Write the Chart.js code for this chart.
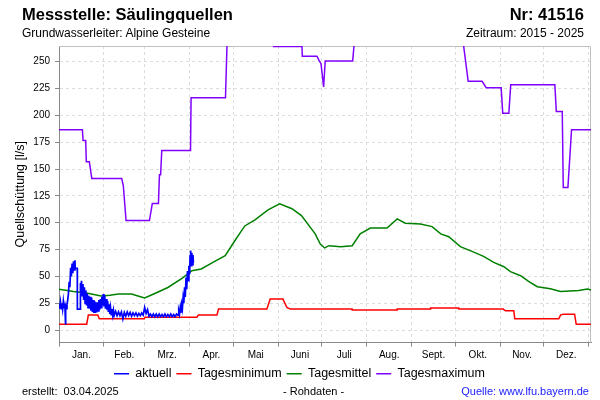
<!DOCTYPE html>
<html>
<head>
<meta charset="utf-8">
<script src="https://cdn.jsdelivr.net/npm/chart.js@4.4.1/dist/chart.umd.min.js"></script>
<style>
  body { margin: 0; background: #fff; }
  #wrap { position: relative; width: 600px; height: 400px; font-family: "Liberation Sans", Arial, sans-serif; color: #000; }
  #wrap canvas { position: absolute; left: 0; top: 0; }
  .txt { position: absolute; line-height: 1; white-space: pre; }
</style>
</head>
<body>
<div id="wrap">
  <canvas id="chart" width="600" height="400"></canvas>
  <div class="txt" style="left:22px; top:6px; font-size:16.5px; font-weight:bold;">Messstelle: Säulingquellen</div>
  <div class="txt" style="left:22px; top:27px; font-size:12px;">Grundwasserleiter: Alpine Gesteine</div>
  <div class="txt" style="right:16px; top:6px; font-size:16.5px; font-weight:bold;">Nr: 41516</div>
  <div class="txt" style="right:16px; top:27px; font-size:12px;">Zeitraum: 2015 - 2025</div>
  <div class="txt" style="left:22px; top:386px; font-size:11px;">erstellt:  03.04.2025</div>
  <div class="txt" style="left:283px; top:386px; font-size:11px;">- Rohdaten -</div>
  <div class="txt" style="right:11px; top:386px; font-size:11px; color:#2020ff;">Quelle: www.lfu.bayern.de</div>
</div>
<script>
// Monate (Tag im Jahr)
const monate = ['Jan.', 'Feb.', 'Mrz.', 'Apr.', 'Mai', 'Juni', 'Juli', 'Aug.', 'Sept.', 'Okt.', 'Nov.', 'Dez.'];
const monatsAnfang = [0, 31, 59, 90, 120, 151, 181, 212, 243, 273, 304, 334, 365];
const monatsMitte = [15.5, 45, 74.5, 105, 135.5, 166, 196.5, 227.5, 258, 288.5, 319, 349.5];
const yTicks = [0, 25, 50, 75, 100, 125, 150, 175, 200, 225, 250];

// aktuell (2025, Rohdaten)
const aktuellTage = [
  0, 0.5, 1, 1.5, 2, 2.5, 3, 3.5, 4, 4.5, 4.6, 5, 5.5, 6, 6.5, 7, 7.5, 8, 8.5, 9, 9.5, 10, 10.5, 11, 11.2, 12.6, 12.65, 14.5, 14.55,
  15, 15.5, 16, 16.5, 17, 17.5, 18, 18.5, 19, 19.5, 20, 20.5, 21, 21.5, 22, 22.5, 23, 23.5, 24, 24.5,
  25, 25.5, 26, 26.5, 27, 27.5, 28, 28.5, 29, 29.5, 30, 30.5, 31, 31.5, 32, 32.5, 33, 33.5, 34, 34.5,
  35, 35.5, 36, 36.5, 37, 37.5,
  38, 39, 40, 41, 42, 43, 44, 45, 46, 47, 48, 49, 50, 51, 52, 53, 54, 55, 56, 57,
  58, 59, 60, 61, 62, 63, 64, 65, 66, 67, 68, 69, 70, 71, 72, 73, 74, 75, 76, 77, 78, 79, 80, 81, 82,
  82.5, 83, 83.5, 84, 84.5, 85, 85.5, 86, 86.5, 87, 87.5, 88, 88.5, 89, 89.5, 90, 90.3, 90.6, 90.8, 91.2, 91.5, 92, 92.3, 92.6];
const aktuellWerte = [
  24, 20, 26, 20, 25, 19.6, 27, 21, 25, 6, 22, 20, 24, 28, 34, 45, 40, 58, 50, 62, 53, 64, 56, 65, 57.5, 57.5, 19.6, 19.6, 44,
  34, 46, 32, 43, 28, 40, 25, 37, 23, 34, 21, 32, 20, 31, 18, 30, 17, 28, 16, 27,
  16, 26, 16.5, 26, 18, 28, 19, 29, 21, 31, 23, 33.6, 22, 32, 20, 29, 19, 27, 17, 24,
  15, 21, 14.5, 19.6, 14, 18.5,
  13.5, 17.5, 13.5, 17, 13.5, 17, 10.5, 16.5, 13, 17, 13.5, 16.5, 13, 16, 13.5, 16, 13, 15.5, 13.5, 16,
  14, 21, 15.5, 19, 13, 15, 12.5, 15, 12.5, 15, 12.5, 15, 12.5, 14.5, 12.5, 15, 12.5, 14.5, 12.5, 15, 12.5, 14.5, 12.5, 15, 14,
  18, 15, 21, 16, 24, 20, 30, 25, 40, 31, 49, 38, 55, 46, 60, 52, 70, 63, 74, 60, 72, 61, 70, 63];

// Tagesminimum
const minTage = [0, 19.1, 20.2, 26.7, 27.8, 58.8, 59.3, 95, 96, 108.8, 109.9, 143.2, 145.5, 154.3, 157, 159.3, 201.9, 202,
  232.9, 233, 255.9, 256, 275.4, 275.5, 306, 307.6, 313.3, 314, 344.3, 345.5, 347.5, 355.2, 356.3, 366.5];
const minWerte = [5.6, 5.6, 14, 14, 10.5, 10.5, 12.1, 12.1, 14, 14, 19.6, 19.6, 28.9, 28.9, 21.1, 19.6, 19.6, 18.7,
  18.7, 19.6, 19.6, 20.5, 20.5, 19.6, 19.6, 18, 18, 10.5, 10.5, 14, 14.9, 14.9, 5.6, 5.6];

// Tagesmittel
const mittelTage = [0, 10, 19, 29, 35, 41, 50, 55, 59, 66, 75, 85, 91.5, 98, 106, 114.5, 121, 128, 135, 144, 152, 160.5,
  167, 176.5, 180, 183, 186, 194, 202, 207.5, 214.5, 226, 233, 238.5, 249, 257, 263, 268.5, 276.5, 284.5, 292.5,
  299.5, 306.5, 311, 318, 323.5, 329.5, 338.5, 345.5, 358, 364, 366.5];
const mittelWerte = [38, 36, 34.5, 31.7, 32.5, 33.6, 33.6, 31.5, 29.9, 34.1, 39.7, 48.5, 55.3, 56.9, 63, 69.3, 83, 97, 102.6, 112, 117.5, 113,
  106.6, 89.6, 80.2, 76.5, 78.6, 77.7, 78.6, 89.6, 95.1, 95.1, 103.5, 99.5, 98.9, 96.4, 89.6, 87, 77.7, 73.3, 68.7,
  63.1, 59, 54.4, 50.7, 45.3, 40.4, 38.5, 36, 37, 38.2, 37.3];

// Tagesmaximum
const maxTage = [0, 16.1, 16.6, 18.4, 18.8, 20.9, 22.6, 43.2, 44.3, 46.2, 62.3, 64.3, 68.5, 69.2, 70, 70.8, 90.6, 91,
  114.7, 115.7, 115.8, 147.4, 147.8, 167.4, 167.6, 177.7, 179.3, 180.5, 182.3, 183.4, 202.3, 203.2, 203.3,
  278.7, 278.8, 281.9, 291.5, 294.3, 304.6, 305.7, 309.9, 311.2, 341.6, 342.6, 346.7, 347.4, 350.6, 353.1, 366.5];
const maxWerte = [186.6, 186.6, 176.6, 176.6, 156.7, 156.7, 141.1, 141.1, 134.6, 102, 102, 118, 118, 144.6, 144.6, 167.3, 167.3, 216.4,
  216.4, 264, 300, 300, 264, 264, 255, 255, 250.6, 248, 226.3, 250.6, 250.6, 264, 300,
  300, 264, 231.6, 231.6, 225.7, 225.7, 201.8, 201.8, 228.5, 228.5, 203.6, 203.6, 132.7, 132.7, 186.6, 186.6];

const reihe = (tage, werte) => tage.map((t, i) => ({ x: t, y: werte[i] }));
const xTicks = [...monatsAnfang, ...monatsMitte].sort((a, b) => a - b);
const istAnfang = c => c.tick && monatsAnfang.includes(c.tick.value);

Chart.defaults.font.family = '"Liberation Sans", Arial, sans-serif';
Chart.defaults.color = '#000';

// grauer Rahmen oben und rechts
const rahmen = {
  id: 'rahmen',
  beforeDatasetsDraw(chart) {
    const { ctx, chartArea: a } = chart;
    ctx.save();
    ctx.strokeStyle = '#c0c0c0';
    ctx.lineWidth = 1;
    ctx.beginPath();
    ctx.moveTo(a.left, a.top + 0.5);
    ctx.lineTo(a.right - 0.5, a.top + 0.5);
    ctx.lineTo(a.right - 0.5, a.bottom);
    ctx.stroke();
    ctx.restore();
  }
};

new Chart(document.getElementById('chart'), {
  type: 'line',
  data: {
    datasets: [
      { label: 'aktuell', data: reihe(aktuellTage, aktuellWerte), borderColor: '#0000ff', backgroundColor: '#0000ff', borderWidth: 1.7 },
      { label: 'Tagesminimum', data: reihe(minTage, minWerte), borderColor: '#ff0000', backgroundColor: '#ff0000', borderWidth: 1.5 },
      { label: 'Tagesmittel', data: reihe(mittelTage, mittelWerte), borderColor: '#008000', backgroundColor: '#008000', borderWidth: 1.5 },
      { label: 'Tagesmaximum', data: reihe(maxTage, maxWerte), borderColor: '#8000ff', backgroundColor: '#8000ff', borderWidth: 1.5 }
    ]
  },
  options: {
    responsive: false,
    animation: false,
    layout: { padding: { top: 46, left: 8, right: 9, bottom: 10 } },
    elements: { point: { radius: 0 }, line: { tension: 0 } },
    plugins: {
      tooltip: { enabled: false },
      legend: {
        position: 'bottom',
        labels: { usePointStyle: true, pointStyle: 'line', pointStyleWidth: 15, font: { size: 12.5 }, padding: 5 }
      }
    },
    scales: {
      x: {
        type: 'linear', min: 0, max: 366.5,
        afterBuildTicks: s => { s.ticks = xTicks.map(v => ({ value: v })); },
        afterFit: s => { s.height = 20; },
        ticks: {
          autoSkip: false, maxRotation: 0, padding: 3, font: { size: 10 },
          callback: v => { const i = monatsMitte.indexOf(v); return i < 0 ? '' : monate[i]; }
        },
        grid: {
          color: c => istAnfang(c) ? '#dcdcdc' : 'transparent',
          tickColor: c => istAnfang(c) ? '#888' : 'transparent',
          tickLength: 4
        },
        border: { color: '#888', dash: [3, 3] }
      },
      y: {
        min: -11.5, max: 264.5,
        afterBuildTicks: s => { s.ticks = yTicks.map(v => ({ value: v })); },
        afterFit: s => { s.width = 51; },
        ticks: { font: { size: 10 }, padding: 5 },
        title: { display: true, text: 'Quellschüttung [l/s]', font: { size: 12.5 }, padding: { top: 5, bottom: 4 } },
        grid: { color: '#dcdcdc', tickColor: '#888', tickLength: 4 },
        border: { color: '#888', dash: [3, 3] }
      }
    }
  },
  plugins: [rahmen]
});
</script>
</body>
</html>
